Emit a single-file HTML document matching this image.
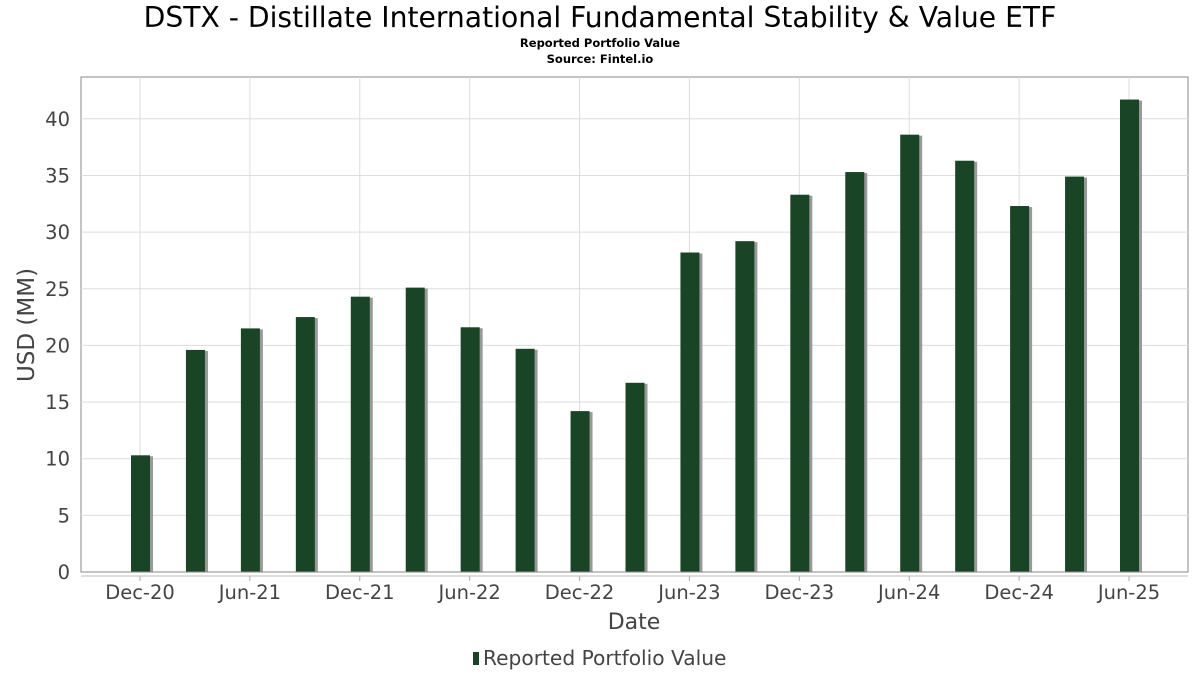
<!DOCTYPE html>
<html><head><meta charset="utf-8"><style>
body{margin:0;background:#fff;font-family:"DejaVu Sans","Liberation Sans",sans-serif;}
</style></head><body>
<svg id="chart" width="1200" height="675" xmlns="http://www.w3.org/2000/svg">
<text x="600" y="27" text-anchor="middle" font-size="28.2" fill="#000">DSTX - Distillate International Fundamental Stability &amp; Value ETF</text>
<text x="600" y="47" text-anchor="middle" font-size="11.5" font-weight="bold">Reported Portfolio Value</text>
<text x="600" y="63" text-anchor="middle" font-size="11.5" font-weight="bold">Source: Fintel.io</text>
<g id="grid"></g>
<g id="bars"></g>
<g id="axes"></g>
<text x="634" y="629" text-anchor="middle" font-size="22" fill="#444">Date</text>
<text transform="translate(34,325) rotate(-90)" text-anchor="middle" font-size="23" fill="#444">USD (MM)</text>
<g>
<rect x="473" y="652" width="6" height="13" fill="#1a4426"/>
<text x="483" y="665" font-size="20.2" fill="#444">Reported Portfolio Value</text>
</g>
</svg>
<script>
const categories=["Dec-20","Mar-21","Jun-21","Sep-21","Dec-21","Mar-22","Jun-22","Sep-22","Dec-22","Mar-23","Jun-23","Sep-23","Dec-23","Mar-24","Jun-24","Sep-24","Dec-24","Mar-25","Jun-25"];
const values=[10.3,19.6,21.5,22.5,24.3,25.1,21.6,19.7,14.2,16.7,28.2,29.2,33.3,35.3,38.6,36.3,32.3,34.9,41.7];
const yTicks=[0,5,10,15,20,25,30,35,40];
const NS="http://www.w3.org/2000/svg";
const L=81,R=1188,T=77,B=572;
const yMax=(B-T)/11.33;
function y(v){return B-v*(B-T)/yMax;}
function x(i){return 140+i*(1129-140)/(categories.length-1);}
function mk(tag,attrs,parent,txt){const e=document.createElementNS(NS,tag);for(const k in attrs)e.setAttribute(k,attrs[k]);if(txt!==undefined)e.textContent=txt;parent.appendChild(e);return e;}
const grid=document.getElementById('grid'),bars=document.getElementById('bars'),axes=document.getElementById('axes');
mk('rect',{x:L,y:T,width:R-L,height:B-T,fill:'none',stroke:'#888'},grid);
yTicks.forEach(t=>{
  const l=mk('line',{x1:L,x2:R,y1:y(t),y2:y(t),stroke:'#ddd'},grid);
  
  
  const tx=mk('text',{x:L-11,y:y(t)+7,'text-anchor':'end','font-size':19.5,fill:'#444'},axes,String(t));
  
  
});
categories.forEach((c,i)=>{
  if(i%2===0){
    const l=mk('line',{x1:x(i),x2:x(i),y1:T,y2:B,stroke:'#ddd'},grid);
    
    
    mk('line',{x1:x(i),x2:x(i),y1:576,y2:581,stroke:'#aaa'},axes);
    const tx=mk('text',{x:x(i),y:599,'text-anchor':'middle','font-size':19.5,fill:'#444'},axes,c);
    
    
  }
  const v=values[i];
  const s=mk('rect',{x:x(i)-9+3,y:y(v)+1,width:19,height:B-y(v)-1,fill:'#999'},bars);
  
  
  const b=mk('rect',{x:x(i)-9,y:y(v),width:19,height:B-y(v),fill:'#1a4426'},bars);
  
  
});
mk('line',{x1:L,x2:R,y1:B,y2:B,stroke:'#888'},axes);
mk('line',{x1:L,x2:R,y1:576,y2:576,stroke:'#bbb'},axes);
</script>
</body></html>
